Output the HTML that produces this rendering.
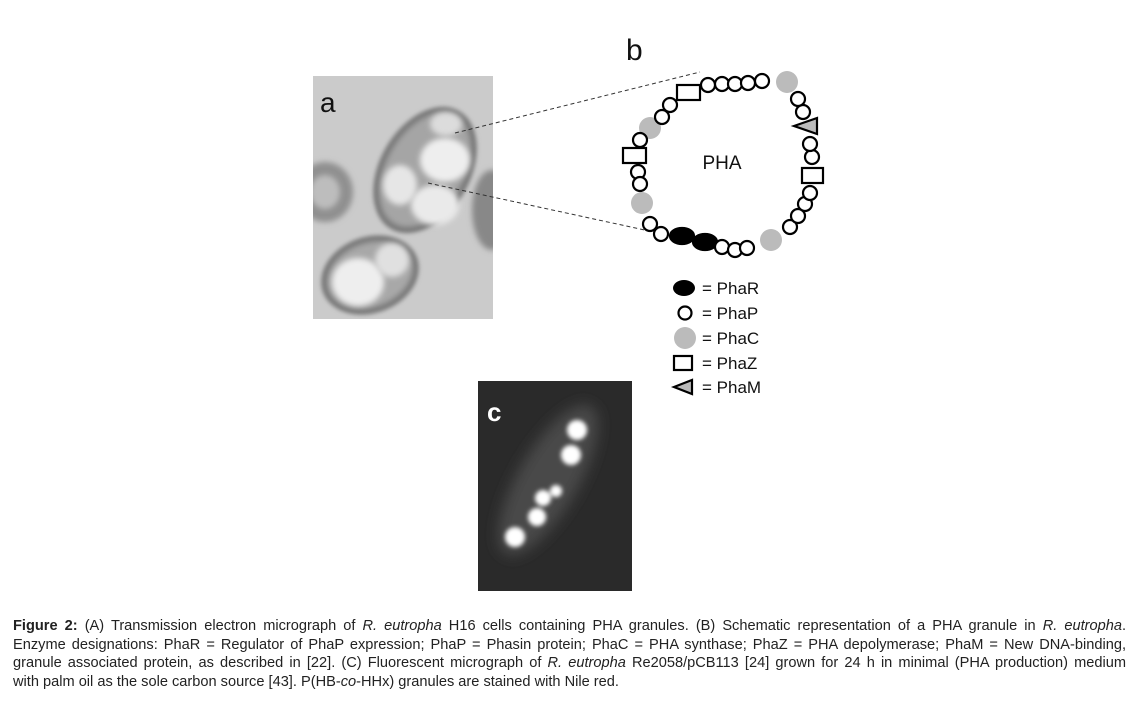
<!DOCTYPE html>
<html><head><meta charset="utf-8">
<style>
body{margin:0;background:#fff;width:1129px;height:702px;overflow:hidden;position:relative;font-family:"Liberation Sans",Arial,sans-serif;}
svg{position:absolute;left:0;top:0}
.cap{position:absolute;left:13px;width:1113px;font-size:14.6px;line-height:18.5px;color:#222;text-align:justify;text-align-last:justify;white-space:nowrap;}
</style></head><body>
<svg width="1129" height="702" viewBox="0 0 1129 702">
<defs>
<filter id="b3" x="-50%" y="-50%" width="200%" height="200%"><feGaussianBlur stdDeviation="3"/></filter>
<filter id="b6" x="-50%" y="-50%" width="200%" height="200%"><feGaussianBlur stdDeviation="7"/></filter>
<filter id="b2" x="-50%" y="-50%" width="200%" height="200%"><feGaussianBlur stdDeviation="2"/></filter>
<clipPath id="ca"><rect x="313" y="76" width="180" height="243"/></clipPath>
<clipPath id="cc"><rect x="478" y="381" width="154" height="210"/></clipPath>
</defs>
<g clip-path="url(#ca)">
<rect x="313" y="76" width="180" height="243" fill="#cbcbcb"/>
<ellipse cx="325" cy="192" rx="28" ry="30" fill="#909090" filter="url(#b3)"/>
<ellipse cx="325" cy="192" rx="15" ry="17" fill="#bdbdbd" filter="url(#b3)"/>
<ellipse cx="492" cy="210" rx="20" ry="40" fill="#888" filter="url(#b3)"/>
<ellipse cx="425" cy="170" rx="45" ry="68" transform="rotate(30 425 170)" fill="#777" filter="url(#b2)"/>
<ellipse cx="425" cy="170" rx="39" ry="62" transform="rotate(30 425 170)" fill="#a5a5a5" filter="url(#b3)"/>
<ellipse cx="446" cy="124" rx="16" ry="12" fill="#dcdcdc" filter="url(#b3)"/>
<ellipse cx="445" cy="160" rx="25" ry="22" fill="#eeeeee" filter="url(#b3)"/>
<ellipse cx="400" cy="185" rx="17" ry="20" fill="#e6e6e6" filter="url(#b3)"/>
<ellipse cx="435" cy="205" rx="24" ry="20" fill="#eaeaea" filter="url(#b3)"/>
<ellipse cx="370" cy="275" rx="50" ry="38" transform="rotate(-20 370 275)" fill="#777" filter="url(#b2)"/>
<ellipse cx="370" cy="275" rx="44" ry="32" transform="rotate(-20 370 275)" fill="#a8a8a8" filter="url(#b3)"/>
<ellipse cx="358" cy="282" rx="26" ry="24" fill="#eeeeee" filter="url(#b3)"/>
<ellipse cx="392" cy="260" rx="17" ry="17" fill="#e0e0e0" filter="url(#b3)"/>
<text x="320" y="112" font-size="28" fill="#111">a</text>
</g>
<line x1="455" y1="133" x2="700" y2="72" stroke="#333" stroke-width="1" stroke-dasharray="4,3"/>
<line x1="428" y1="183" x2="700" y2="242" stroke="#333" stroke-width="1" stroke-dasharray="4,3"/>
<text x="626" y="60" font-size="30" fill="#111">b</text>
<g stroke="#000" stroke-width="2.2" fill="#fff">
<circle cx="787" cy="82" r="11" fill="#bbb" stroke="none"/>
<circle cx="650" cy="128" r="11" fill="#bbb" stroke="none"/>
<circle cx="642" cy="203" r="11" fill="#bbb" stroke="none"/>
<circle cx="771" cy="240" r="11" fill="#bbb" stroke="none"/>
<circle cx="708" cy="85" r="7"/><circle cx="722" cy="84" r="7"/><circle cx="735" cy="84" r="7"/><circle cx="748" cy="83" r="7"/><circle cx="762" cy="81" r="7"/>
<rect x="677" y="85" width="23" height="15"/>
<circle cx="670" cy="105" r="7"/><circle cx="662" cy="117" r="7"/>
<circle cx="640" cy="140" r="7"/>
<rect x="623" y="148" width="23" height="15"/>
<circle cx="638" cy="172" r="7"/><circle cx="640" cy="184" r="7"/>
<circle cx="650" cy="224" r="7"/><circle cx="661" cy="234" r="7"/>
<ellipse cx="682" cy="236" rx="12" ry="8" fill="#000"/>
<ellipse cx="705" cy="242" rx="12" ry="8" fill="#000"/>
<circle cx="722" cy="247" r="7"/><circle cx="735" cy="250" r="7"/><circle cx="747" cy="248" r="7"/>
<circle cx="790" cy="227" r="7"/><circle cx="798" cy="216" r="7"/><circle cx="805" cy="204" r="7"/><circle cx="810" cy="193" r="7"/>
<rect x="802" y="168" width="21" height="15"/>
<circle cx="812" cy="157" r="7"/><circle cx="810" cy="144" r="7"/>
<polygon points="794,126 817,118 817,134" fill="#bbb"/>
<circle cx="803" cy="112" r="7"/><circle cx="798" cy="99" r="7"/>
</g>
<text x="722" y="169" font-size="19" text-anchor="middle" fill="#111">PHA</text>
<ellipse cx="684" cy="288" rx="11" ry="8" fill="#000"/>
<circle cx="685" cy="313" r="6.5" fill="#fff" stroke="#000" stroke-width="2.2"/>
<circle cx="685" cy="338" r="11" fill="#bbb"/>
<rect x="674" y="356" width="18" height="14" fill="#fff" stroke="#000" stroke-width="2.2"/>
<polygon points="674,387 692,380 692,394" fill="#bbb" stroke="#000" stroke-width="2.2"/>
<g font-size="17" fill="#111">
<text x="702" y="294">= PhaR</text>
<text x="702" y="319">= PhaP</text>
<text x="702" y="344">= PhaC</text>
<text x="702" y="369">= PhaZ</text>
<text x="702" y="393">= PhaM</text>
</g>
<g clip-path="url(#cc)">
<rect x="478" y="381" width="154" height="210" fill="#2a2a2a"/>
<ellipse cx="548" cy="480" rx="30" ry="85" transform="rotate(30 548 480)" fill="#4a4a4a" filter="url(#b6)"/>
<g fill="#fff" filter="url(#b2)">
<circle cx="577" cy="430" r="10"/>
<circle cx="571" cy="455" r="10"/>
<circle cx="556" cy="491" r="6"/>
<circle cx="543" cy="498" r="8"/>
<circle cx="537" cy="517" r="9"/>
<circle cx="515" cy="537" r="10"/>
</g>
<text x="487" y="421" font-size="26" font-weight="bold" fill="#fff">c</text>
</g>
</svg>
<div class="cap" style="top:617px"><b>Figure 2:</b> (A) Transmission electron micrograph of <i>R. eutropha</i> H16 cells containing PHA granules. (B) Schematic representation of a PHA granule in <i>R. eutropha</i>.</div>
<div class="cap" style="top:636px">Enzyme designations: PhaR = Regulator of PhaP expression; PhaP = Phasin protein; PhaC = PHA synthase; PhaZ = PHA depolymerase; PhaM = New DNA-binding,</div>
<div class="cap" style="top:654px">granule associated protein, as described in [22]. (C) Fluorescent micrograph of <i>R. eutropha</i> Re2058/pCB113 [24] grown for 24 h in minimal (PHA production) medium</div>
<div class="cap" style="top:673px;text-align-last:left">with palm oil as the sole carbon source [43]. P(HB-<i>co</i>-HHx) granules are stained with Nile red.</div>
</body></html>
